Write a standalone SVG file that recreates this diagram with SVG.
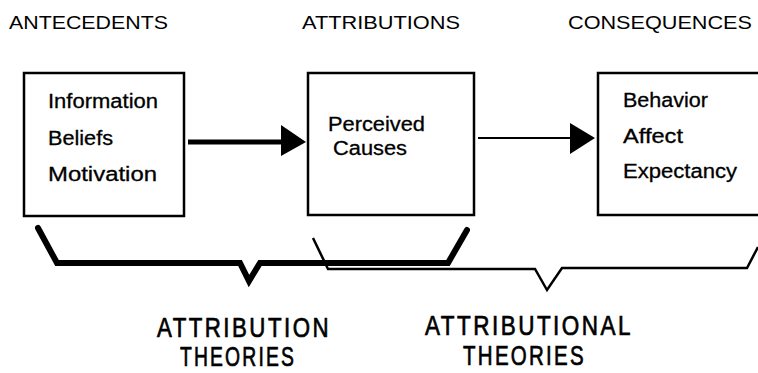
<svg xmlns="http://www.w3.org/2000/svg" width="758" height="373" viewBox="0 0 758 373">
<style>
.box{fill:#fff;stroke:#000;stroke-width:2.5}
.hd{font-family:"Liberation Sans",Arial,sans-serif;font-size:19px;fill:#000}
.tx{font-family:"Liberation Sans",Arial,sans-serif;font-size:20px;fill:#000;stroke:#000;stroke-width:0.3}
.th{font-family:"Liberation Sans",Arial,sans-serif;font-size:27px;fill:#000;stroke:#000;stroke-width:0.7;letter-spacing:3px}
</style>
<rect width="758" height="373" fill="#fff"/>
<g id="headings">
<text class="hd" x="9" y="29" textLength="159" lengthAdjust="spacingAndGlyphs">ANTECEDENTS</text>
<text class="hd" x="302" y="29" textLength="158" lengthAdjust="spacingAndGlyphs">ATTRIBUTIONS</text>
<text class="hd" x="568" y="29" textLength="184" lengthAdjust="spacingAndGlyphs">CONSEQUENCES</text>
</g>
<g id="antecedents">
<rect class="box" x="24" y="73" width="160" height="143"/>
<text class="tx" x="48" y="108" textLength="110" lengthAdjust="spacingAndGlyphs">Information</text>
<text class="tx" x="48" y="145" textLength="65" lengthAdjust="spacingAndGlyphs">Beliefs</text>
<text class="tx" x="48" y="181" textLength="109" lengthAdjust="spacingAndGlyphs">Motivation</text>
</g>
<g id="attributions">
<rect class="box" x="308" y="73" width="166" height="142"/>
<text class="tx" x="328" y="131" textLength="97" lengthAdjust="spacingAndGlyphs">Perceived</text>
<text class="tx" x="333" y="155" textLength="74" lengthAdjust="spacingAndGlyphs">Causes</text>
</g>
<g id="consequences">
<rect class="box" x="598" y="73" width="170" height="142"/>
<text class="tx" x="623" y="107" textLength="85" lengthAdjust="spacingAndGlyphs">Behavior</text>
<text class="tx" x="623" y="143" textLength="60" lengthAdjust="spacingAndGlyphs">Affect</text>
<text class="tx" x="623" y="178" textLength="114" lengthAdjust="spacingAndGlyphs">Expectancy</text>
</g>
<g id="connectors">
<line x1="188" y1="142" x2="284" y2="142" stroke="#000" stroke-width="5"/>
<polygon points="281,125 306,142 281,156" fill="#000"/>
<line x1="478" y1="138" x2="572" y2="138" stroke="#000" stroke-width="2"/>
<polygon points="570,123 595,138 570,154" fill="#000"/>
<path d="M38,228 L57,263 L240,263 L249,281 L260,263 L448,263 L467,230" fill="none" stroke="#000" stroke-width="6" stroke-linejoin="miter" stroke-linecap="round"/>
<path d="M313,238 L328,269 L535,269 L547,290 L562,268 L747,268 L758,247" fill="none" stroke="#000" stroke-width="2.5"/>
</g>
<g id="theory-labels">
<text class="th" x="157" y="337" textLength="174" lengthAdjust="spacingAndGlyphs">ATTRIBUTION</text>
<text class="th" x="180" y="366" textLength="116" lengthAdjust="spacingAndGlyphs">THEORIES</text>
<text class="th" x="425" y="335" textLength="208" lengthAdjust="spacingAndGlyphs">ATTRIBUTIONAL</text>
<text class="th" x="463" y="365" textLength="123" lengthAdjust="spacingAndGlyphs">THEORIES</text>
</g>
</svg>
